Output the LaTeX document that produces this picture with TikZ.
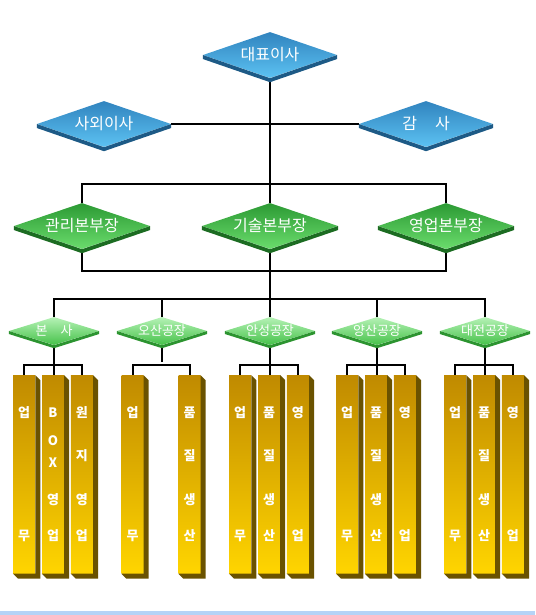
\documentclass[tikz,border=0pt]{standalone}
\usepackage{fontspec}
\newfontfamily\krfont{Noto Sans CJK KR}
\usetikzlibrary{positioning, shapes.geometric, backgrounds}
\definecolor{bluetop}{HTML}{3184BF}
\definecolor{bluebot}{HTML}{5CC2F2}
\definecolor{blueside}{HTML}{1D5A86}
\definecolor{greentop}{HTML}{2C9A34}
\definecolor{greenbot}{HTML}{6ADC6C}
\definecolor{greenside}{HTML}{1C6C22}
\definecolor{sitetop}{HTML}{B6F2B6}
\definecolor{sitebot}{HTML}{46C24A}
\definecolor{siteside}{HTML}{2C9430}
\definecolor{bartop}{HTML}{C08A00}
\definecolor{barbot}{HTML}{FFD500}
\definecolor{barside}{HTML}{6A5200}
\definecolor{stripblue}{HTML}{B6D3F6}

\begin{document}
\begin{tikzpicture}[
  x=1pt, y=-1pt,
  node distance = 6.5pt,
  %
  % -- Node styles ----------------------------------------------
  topbox/.style  = {shape=diamond, inner sep=0pt, aspect=2.91,
                    minimum width=134pt, minimum height=46pt,
                    top color=bluetop, bottom color=bluebot, text=white,
                    font=\krfont\fontsize{16}{18}\selectfont},
  divbox/.style  = {topbox, minimum width=136pt, aspect=2.96,
                    top color=greentop, bottom color=greenbot},
  sitebox/.style = {shape=diamond, inner sep=0pt, aspect=3.2,
                    minimum width=90pt, minimum height=28pt,
                    top color=sitetop, bottom color=sitebot, text=white,
                    font=\krfont\fontsize{13}{15}\selectfont},
  teambar/.style = {inner sep=0pt, minimum width=22pt, minimum height=198pt,
                    text width=22pt, align=center,
                    top color=bartop, bottom color=barbot, text=white,
                    font=\krfont\bfseries\fontsize{13}{14}\selectfont},
  conn/.style    = {line width=2pt, black},
]
\useasboundingbox (0,0) rectangle (535,615);

%% ============================================================
%% TOP -- board
%% ============================================================
\node[topbox] (ceo)    at (270,55)  {대표이사};
\node[topbox] (outdir) at (104,124) {사외이사};
\node[topbox] (audit)  at (426,124) {감\hspace{18pt}사};

%% ============================================================
%% DIVISIONS
%% ============================================================
\node[divbox] (mgmt)  at (82,226)  {관리본부장};
\node[divbox] (tech)  at (270,226) {기술본부장};
\node[divbox] (sales) at (446,226) {영업본부장};

\coordinate (split1) at (270,184);
\coordinate (join1)  at (270,271);
\coordinate (split2) at (270,299);

%% ============================================================
%% SITES
%% ============================================================
\node[sitebox] (hq)    at (54,331)  {본\hspace{13pt}사};
\node[sitebox] (osan)  at (162,331) {오산공장};
\node[sitebox] (anseong) at (270,331) {안성공장};
\node[sitebox] (yangsan) at (377,331) {양산공장};
\node[sitebox] (daejeon) at (485,331) {대전공장};

%% -- Teams: 본사 ---------------------------------------------
\node[teambar, below=30pt of hq, xshift=-1pt] (hq-b)
  {B\\[14pt]O\\[8pt]X\\[23pt]영\\[22pt]업};
\node[teambar, left=of hq-b]  (hq-a) {업\\[109pt]무};
\node[teambar, right=of hq-b] (hq-c)
  {원\\[29pt]지\\[30pt]영\\[22pt]업};

%% -- Teams: 오산공장 -----------------------------------------
\node[teambar, below=30pt of osan, xshift=-29.5pt] (osan-a) {업\\[109pt]무};
\node[teambar, below=30pt of osan, xshift=27.5pt]  (osan-c)
  {품\\[29pt]질\\[30pt]생\\[22pt]산};

%% -- Teams: 안성공장 -----------------------------------------
\node[teambar, below=30pt of anseong, xshift=-1pt] (anseong-b)
  {품\\[29pt]질\\[30pt]생\\[22pt]산};
\node[teambar, left=of anseong-b]  (anseong-a) {업\\[109pt]무};
\node[teambar, right=of anseong-b] (anseong-c) {영\\[109pt]업};

%% -- Teams: 양산공장 -----------------------------------------
\node[teambar, below=30pt of yangsan, xshift=-1pt] (yangsan-b)
  {품\\[29pt]질\\[30pt]생\\[22pt]산};
\node[teambar, left=of yangsan-b]  (yangsan-a) {업\\[109pt]무};
\node[teambar, right=of yangsan-b] (yangsan-c) {영\\[109pt]업};

%% -- Teams: 대전공장 -----------------------------------------
\node[teambar, below=30pt of daejeon, xshift=-1pt] (daejeon-b)
  {품\\[29pt]질\\[30pt]생\\[22pt]산};
\node[teambar, left=of daejeon-b]  (daejeon-a) {업\\[109pt]무};
\node[teambar, right=of daejeon-b] (daejeon-c) {영\\[109pt]업};

%% -- 3D sides --------------------------------------------------
\foreach \n in {ceo, outdir, audit}
  \fill[blueside] (\n.west) -- (\n.south) -- (\n.east)
    -- ([yshift=-4pt]\n.east) -- ([yshift=-4pt]\n.south)
    -- ([yshift=-4pt]\n.west) -- cycle;
\foreach \n in {mgmt, tech, sales}
  \fill[greenside] (\n.west) -- (\n.south) -- (\n.east)
    -- ([yshift=-4pt]\n.east) -- ([yshift=-4pt]\n.south)
    -- ([yshift=-4pt]\n.west) -- cycle;
\foreach \n in {hq, osan, anseong, yangsan, daejeon}
  \fill[siteside] (\n.west) -- (\n.south) -- (\n.east)
    -- ([yshift=-3pt]\n.east) -- ([yshift=-3pt]\n.south)
    -- ([yshift=-3pt]\n.west) -- cycle;
\foreach \n in {hq-a, hq-b, hq-c, osan-a, osan-c,
                anseong-a, anseong-b, anseong-c,
                yangsan-a, yangsan-b, yangsan-c,
                daejeon-a, daejeon-b, daejeon-c}
  \fill[barside] (\n.north east) -- ([shift={(5pt,-5pt)}]\n.north east)
    -- ([shift={(5pt,-5pt)}]\n.south east)
    -- ([shift={(5pt,-5pt)}]\n.south west)
    -- (\n.south west) -- (\n.south east) -- cycle;

%% -- Connectors ------------------------------------------------
\begin{scope}[on background layer]
\draw[conn] (ceo.south) -- (tech.north);
\draw[conn] (outdir.east) -- (audit.west);
\draw[conn] (mgmt.north) |- (split1) -| (sales.north);
\draw[conn] (mgmt.south) |- (join1) -| (sales.south);
\draw[conn] (tech.south) -- (split2);
\draw[conn] (hq.north) |- (split2) -| (daejeon.north);
\draw[conn] (osan.north) -- (osan.north |- split2);
\draw[conn] (anseong.north) -- (split2);
\draw[conn] (yangsan.north) -- (yangsan.north |- split2);

% site -> teams
\foreach \s in {hq, anseong, yangsan, daejeon} {
  \draw[conn] (\s.south) -- (\s.south |- \s-b.north);
  \draw[conn] (\s-a.north) -- ++(0,-10) -| (\s-c.north);
}
\draw[conn] (osan.south) -- ++(0,17);
\draw[conn] (osan-a.north) -- ++(0,-10) -| (osan-c.north);
\end{scope}

%% -- Bottom strip ----------------------------------------------
\fill[stripblue] (0,611) rectangle (535,615);

\end{tikzpicture}
\end{document}
